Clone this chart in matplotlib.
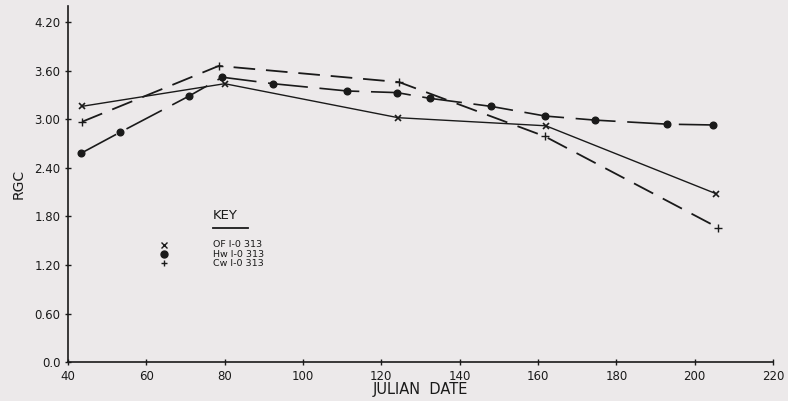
import matplotlib
matplotlib.use("Agg")
import matplotlib.pyplot as plt

# data
of_day = [43.5, 80, 124.3, 162, 205.5]
of_rgc = [3.16, 3.44, 3.02, 2.92, 2.08]

hw_day = [43.3, 53.3, 71, 79.4, 92.4, 111.3, 124, 132.3, 148, 161.9, 174.6, 193, 204.8]
hw_rgc = [2.58, 2.84, 3.29, 3.52, 3.44, 3.35, 3.33, 3.26, 3.16, 3.04, 2.99, 2.94, 2.93]

cw_day = [43.6, 78.5, 124.5, 161.7, 206]
cw_rgc = [2.97, 3.66, 3.46, 2.79, 1.66]

x_ticks = [40, 60, 80, 100, 120, 140, 160, 180, 200, 220]
y_ticks = [0.0, 0.6, 1.2, 1.8, 2.4, 3.0, 3.6, 4.2]
y_labels = ["0.0", "0.60", "1.20", "1.80", "2.40", "3.00", "3.60", "4.20"]
key_names = ["OF I-0 313", "Hw I-0 313", "Cw I-0 313"]

bg = "#ece9ea"
ink = "#1a1a1a"

fig = plt.figure(figsize=(7.88, 4.01), dpi=100, facecolor=bg)
ax = fig.add_axes([0.0863, 0.097, 0.8947, 0.888])
ax.set_facecolor(bg)

ax.plot(of_day, of_rgc, color=ink, lw=1.0, marker="x", ms=4.5, mew=1.2)
ax.plot(hw_day, hw_rgc, color=ink, lw=1.2, dashes=(24, 7), marker="o", ms=4.8)
ax.plot(cw_day, cw_rgc, color=ink, lw=1.3, dashes=(12, 6), marker="+", ms=5.5, mew=1.0)

ax.set_xlim(40, 220)
ax.set_ylim(0, 4.4)
ax.set_xticks(x_ticks)
ax.set_yticks(y_ticks)
ax.set_yticklabels(y_labels)
ax.tick_params(axis="both", direction="inout", length=4, width=1, colors=ink, labelsize=8.5)
ax.tick_params(axis="x", pad=4)
for s in ["top", "right"]:
    ax.spines[s].set_visible(False)
for s in ["left", "bottom"]:
    ax.spines[s].set_color(ink)
    ax.spines[s].set_linewidth(1.2)

ax.set_xlabel("JULIAN  DATE", fontsize=10.5, color=ink, labelpad=-1)
ax.set_ylabel("RGC", fontsize=10, color=ink, labelpad=6)

# key
ax.text(77, 1.73, "KEY", fontsize=9.5, color=ink, va="bottom")
ax.plot([77, 86], [1.66, 1.66], color=ink, lw=1.3)
key_y = [1.45, 1.33, 1.22]
key_marks = ["x", "o", "+"]
for y, m, name in zip(key_y, key_marks, key_names):
    ax.plot([64.5], [y], color=ink, marker=m, ms=4 if m != "o" else 5, mew=1.0, ls="none")
    ax.text(77, y, name, fontsize=6.8, color=ink, va="center")

fig.savefig("out.png", dpi=100, facecolor=bg)
